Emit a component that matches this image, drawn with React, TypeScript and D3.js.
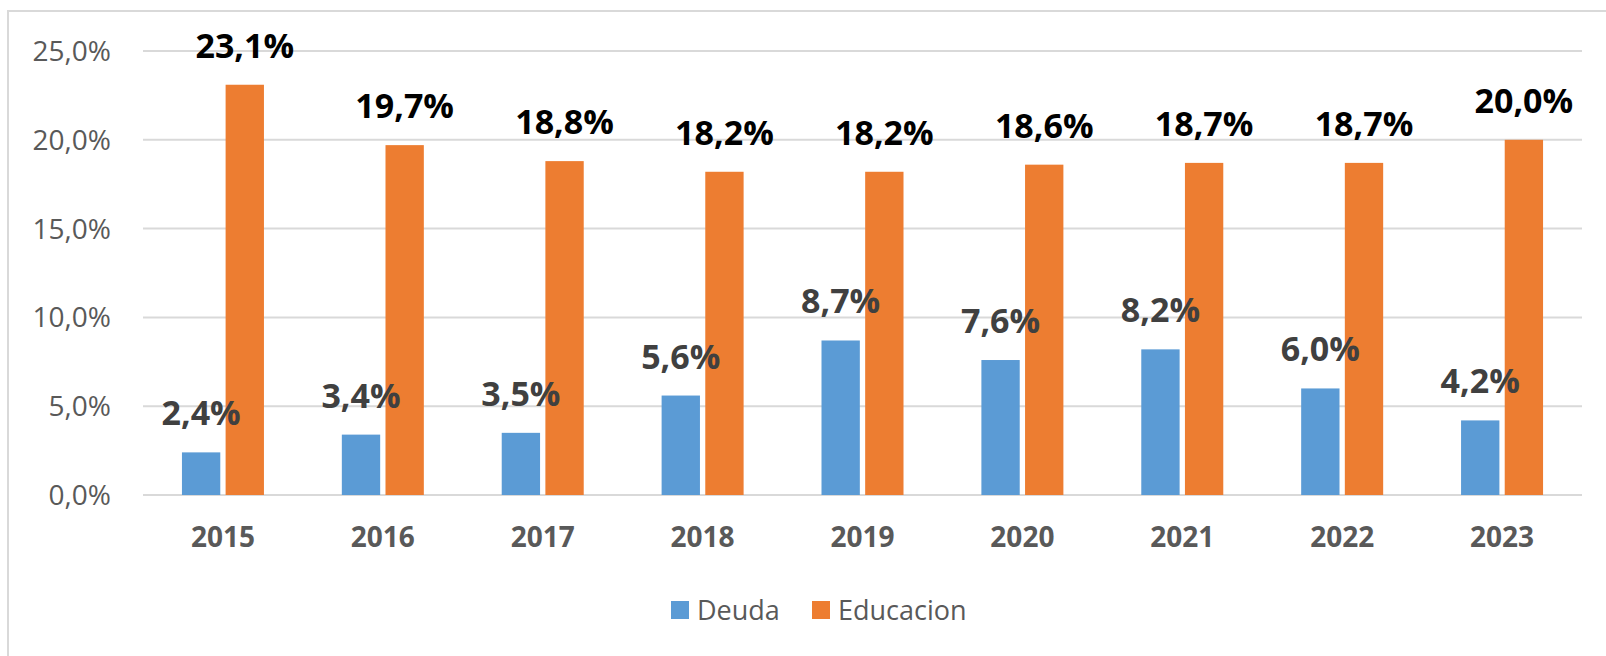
import React, { useEffect } from 'react';
import * as d3 from 'd3';

const years = ['2015', '2016', '2017', '2018', '2019', '2020', '2021', '2022', '2023'];
const deuda = [2.4, 3.4, 3.5, 5.6, 8.7, 7.6, 8.2, 6.0, 4.2];
const educacion = [23.1, 19.7, 18.8, 18.2, 18.2, 18.6, 18.7, 18.7, 20.0];
const yTicks = [0, 5, 10, 15, 20, 25];
const seriesNames = ['Deuda', 'Educacion'];
const colors = ['#5B9BD5', '#ED7D31'];

const W = 1606;
const H = 656;
const FONT = '"Open Sans", "Noto Sans", sans-serif';

const fmt = (v: number) => v.toFixed(1).replace('.', ',') + '%';

const App = () => {
    useEffect(() => {
        document.body.style.margin = '0';
        document.body.style.overflow = 'hidden';
    }, []);

    const x = d3.scaleBand<string>().domain(years).range([143, 1582]);
    const y = d3.scaleLinear().domain([0, 25]).range([495, 51]);

    // bars inside each category: width 36, gap 10
    const inner = d3.scaleBand<string>().domain(seriesNames).range([-41, 41]).paddingInner(10 / 82);

    const series = [deuda, educacion];
    const labelColors = ['#404040', '#000000'];

    return (
        <svg width={W} height={H} style={{ display: 'block', background: '#fff' }}>
            <rect x={8} y={11} width={W + 20} height={H + 20} fill="#fff" stroke="#D9D9D9" strokeWidth={2} />

            {/* grid lines */}
            {yTicks.map((t) => (
                <line key={t} x1={143} x2={1582} y1={y(t)} y2={y(t)} stroke="#D9D9D9" strokeWidth={2} />
            ))}

            {/* y tick labels */}
            {yTicks.map((t) => (
                <text
                    key={'yt' + t}
                    x={111}
                    y={y(t)}
                    dy="0.36em"
                    textAnchor="end"
                    fontFamily={FONT}
                    fontSize={28}
                    fill="#595959"
                >
                    {fmt(t)}
                </text>
            ))}

            {/* bars */}
            {series.map((vals, si) =>
                vals.map((v, i) => {
                    const cx = x(years[i])! + x.bandwidth() / 2;
                    const bx = cx + inner(seriesNames[si])!;
                    return (
                        <rect
                            key={si + '-' + i}
                            x={bx}
                            y={y(v)}
                            width={inner.bandwidth()}
                            height={y(0) - y(v)}
                            fill={colors[si]}
                        />
                    );
                })
            )}

            {/* data labels */}
            {series.map((vals, si) =>
                vals.map((v, i) => {
                    const cx = x(years[i])! + x.bandwidth() / 2;
                    const bx = cx + inner(seriesNames[si])! + inner.bandwidth() / 2;
                    return (
                        <text
                            key={'l' + si + '-' + i}
                            x={bx}
                            y={y(v) - 27}
                            textAnchor="middle"
                            fontFamily={FONT}
                            fontWeight="bold"
                            fontSize={34}
                            fill={labelColors[si]}
                        >
                            {fmt(v)}
                        </text>
                    );
                })
            )}

            {/* x labels */}
            {years.map((yr) => (
                <text
                    key={'x' + yr}
                    x={x(yr)! + x.bandwidth() / 2}
                    y={547}
                    textAnchor="middle"
                    fontFamily={FONT}
                    fontWeight="bold"
                    fontSize={28}
                    fill="#595959"
                >
                    {yr}
                </text>
            ))}

            {/* legend */}
            {seriesNames.map((name, i) => {
                const lx = [671, 812][i];
                return (
                    <g key={'lg' + name}>
                        <rect x={lx} y={601} width={18} height={18} fill={colors[i]} />
                        <text x={lx + 26} y={620} fontFamily={FONT} fontSize={27} fill="#595959">
                            {name}
                        </text>
                    </g>
                );
            })}
        </svg>
    );
};

export default App;
